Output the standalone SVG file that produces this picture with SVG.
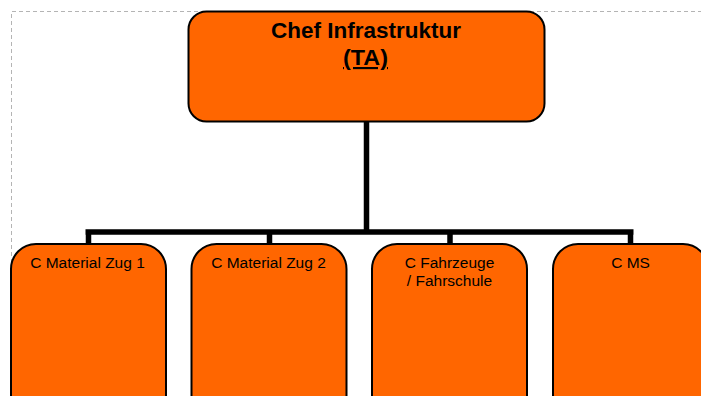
<svg xmlns="http://www.w3.org/2000/svg" width="701" height="396" viewBox="0 0 701 396">
<style>
.frame{fill:none;stroke:#b4b4b4;stroke-width:1;stroke-dasharray:4,3}
.box{fill:#ff6600;stroke:#000;stroke-width:2}
.conn{fill:none;stroke:#000;stroke-width:5.5;stroke-linecap:butt}
.title{font-family:"Liberation Sans",Arial,sans-serif;font-weight:bold;font-size:21.5px;fill:#000;text-anchor:middle}
.lbl{font-family:"Liberation Sans",Arial,sans-serif;font-size:15.5px;fill:#000;text-anchor:middle}
</style>
<rect width="701" height="396" fill="#fff"/>
<path class="frame" d="M11.5,396 V11.5 H701"/>
<g id="connectors">
<path class="conn" d="M366.5,122 V232 M85.5,232 H633.5 M88.5,232 V245 M269.5,232 V245 M450,232 V245 M630.5,232 V245"/>
</g>
<g id="node-chef">
<rect class="box" x="188.5" y="11.5" width="356" height="110" rx="18" ry="18"/>
<text class="title" x="366" y="37.5" textLength="190" lengthAdjust="spacingAndGlyphs">Chef Infrastruktur</text>
<text class="title" x="365.5" y="65" text-decoration="underline" textLength="45" lengthAdjust="spacingAndGlyphs">(TA)</text>
</g>
<g id="node-zug1">
<rect class="box" x="11" y="244" width="155" height="180" rx="25" ry="25"/>
<text class="lbl" x="87.5" y="268">C Material Zug 1</text>
</g>
<g id="node-zug2">
<rect class="box" x="191.5" y="244" width="155" height="180" rx="25" ry="25"/>
<text class="lbl" x="268.5" y="268">C Material Zug 2</text>
</g>
<g id="node-fahrzeuge">
<rect class="box" x="372" y="244" width="155" height="180" rx="25" ry="25"/>
<text class="lbl" x="449.5" y="268">C Fahrzeuge</text>
<text class="lbl" x="449.5" y="286">/ Fahrschule</text>
</g>
<g id="node-ms">
<rect class="box" x="553" y="244" width="155" height="180" rx="25" ry="25"/>
<text class="lbl" x="630.5" y="268">C MS</text>
</g>
</svg>
